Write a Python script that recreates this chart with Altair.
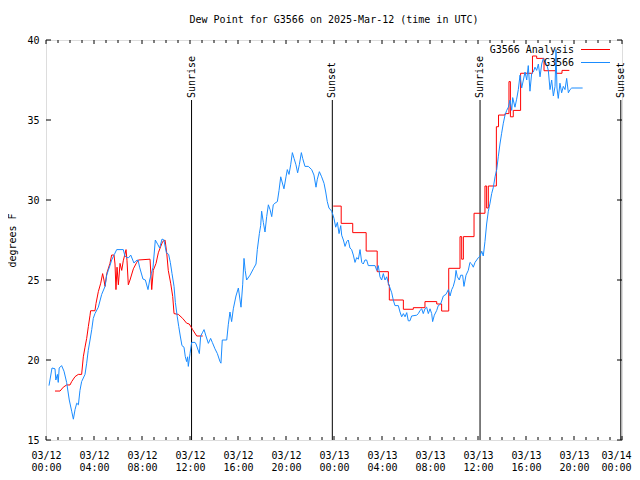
import altair as alt
import pandas as pd

# ---------------- data (hours since 2025-03-12 00:00 UTC, dew point in F) ----------------
obs_hours = [0.25, 0.5, 0.75, 0.82, 0.95, 1.02, 1.1, 1.3, 1.5, 1.72, 1.94, 2.14, 2.28, 2.42, 2.56, 2.7,
             2.83, 2.97, 3.25, 3.39, 3.52, 3.67, 3.81, 3.94, 4.08, 4.36, 4.64, 4.92, 5.06, 5.19, 5.33,
             5.47, 5.7, 5.89, 6.44, 6.58, 6.72, 6.9, 7.06, 7.33, 7.5, 7.67, 7.8, 8.08, 8.28, 8.5, 8.64,
             8.78, 8.92, 9.11, 9.33, 9.47, 9.67, 9.83, 10.03, 10.22, 10.36, 10.5, 10.67, 10.78, 10.94,
             11.06, 11.19, 11.33, 11.5, 11.61, 11.72, 11.8, 11.86, 12.0, 12.14, 12.42, 12.5, 12.78,
             12.89, 13.03, 13.17, 13.33, 13.53, 13.72, 13.86, 14.08, 14.28, 14.5, 14.58, 14.69, 15.06,
             15.19, 15.33, 15.47, 15.61, 15.83, 16.03, 16.17, 16.25, 16.39, 16.5, 16.6, 16.72, 17.0,
             17.28, 17.5, 17.61, 17.78, 17.89, 17.97, 18.11, 18.25, 18.39, 18.53, 18.67, 18.81, 18.94,
             19.08, 19.28, 19.42, 19.56, 19.72, 19.83, 20.0, 20.11, 20.25, 20.39, 20.53, 20.67, 20.83,
             20.97, 21.11, 21.28, 21.39, 21.58, 21.86, 22.14, 22.33, 22.5, 22.61, 22.78, 22.97, 23.17,
             23.31, 23.44, 23.58, 23.81, 24.0, 24.14, 24.28, 24.42, 24.56, 24.64, 24.78, 24.92, 25.06,
             25.19, 25.33, 25.47, 25.61, 25.75, 25.89, 26.03, 26.17, 26.31, 26.44, 26.58, 26.72, 26.86,
             27.42, 27.56, 27.69, 27.83, 27.97, 28.11, 28.25, 28.39, 28.53, 28.67, 28.81, 28.94, 29.08,
             29.36, 29.5, 29.64, 29.78, 29.92, 30.06, 30.19, 30.33, 30.47, 30.89, 31.03, 31.17, 31.31,
             31.44, 31.58, 31.72, 31.86, 32.0, 32.14, 32.22, 32.36, 32.56, 32.69, 32.89, 33.11, 33.33,
             33.53, 33.67, 33.81, 33.94, 34.08, 34.17, 34.28, 34.44, 34.56, 34.72, 34.83, 35.0, 35.19,
             35.33, 35.47, 35.61, 35.75, 35.89, 36.03, 36.17, 36.31, 36.44, 36.58, 36.72, 36.86, 37.0,
             37.14, 37.28, 37.42, 37.56, 37.69, 37.83, 37.97, 38.11, 38.25, 38.39, 38.53, 38.67, 38.81,
             38.89, 39.08, 39.22, 39.36, 39.5, 39.64, 39.78, 39.92, 40.06, 40.19, 40.33, 40.47, 40.61,
             40.75, 40.89, 41.03, 41.17, 41.31, 41.44, 41.58, 41.72, 41.86, 42.0, 42.14, 42.28, 42.42,
             42.5, 42.58, 42.69, 42.83, 42.97, 43.11, 43.25, 43.39, 43.53, 43.67, 43.81, 44.08, 44.72]
obs_dewpt = [18.4, 19.5, 19.45, 18.75, 19.1, 18.6, 19.5, 19.65, 19.3, 18.6, 17.5, 16.8, 16.3, 16.9, 17.3, 17.2,
             18.1, 18.65, 19.1, 19.8, 20.6, 21.25, 21.9, 22.6, 22.9, 23.3, 24.1, 24.6, 25.3, 25.6, 25.9,
             26.25, 26.6, 26.9, 26.9, 26.5, 26.4, 26.4, 26.56, 26.06, 26.2, 26.25, 25.8, 25.06, 25.0, 24.4, 25.0,
             25.4, 25.8, 27.5, 27.2, 27.0, 27.56, 27.5, 26.7, 26.6, 26.1, 25.4, 24.6, 23.6, 22.7,
             22.1, 21.5, 20.9, 20.8, 20.2, 19.9, 20.2, 19.6, 20.4, 21.1, 21.1, 21.0, 20.4,
             21.5, 21.7, 21.9, 21.5, 21.04, 21.35, 21.1, 20.7, 20.4, 19.9, 19.8, 21.25, 21.25,
             22.2, 23.0, 22.4, 23.2, 24.0, 24.5, 23.75, 23.3, 24.7, 26.35, 25.6, 25.0, 25.3,
             25.7, 26.0, 26.9, 27.9, 28.4, 29.3, 28.6, 28.0, 28.96, 29.7, 29.4, 28.96, 29.7,
             29.8, 29.9, 30.6, 31.45, 31.0, 30.7, 31.45, 31.9, 31.6, 32.2, 32.96, 32.6, 32.2,
             31.7, 32.2, 32.96, 32.6, 32.1, 32.1, 31.9, 31.56, 30.8, 31.3, 31.77, 31.45, 31.04,
             30.5, 29.9, 29.5, 29.3, 28.85, 28.3, 28.6, 27.9, 28.4, 27.8, 27.5, 27.1, 27.4,
             27.5, 27.0, 26.9, 26.56, 26.1, 26.4, 26.3, 26.9, 26.1, 26.0, 26.25, 26.25, 25.9,
             25.9, 25.6, 25.9, 25.2, 25.0, 25.4, 25.0, 25.2, 24.8, 24.5, 24.2, 23.75, 23.4,
             23.4, 23.0, 22.7, 22.9, 22.7, 22.96, 22.45, 22.45, 22.75, 22.8, 22.9, 23.1, 23.2,
             22.9, 23.2, 23.3, 22.9, 23.2, 22.9, 22.4, 22.8, 23.1, 23.4, 23.5, 24.0, 24.1,
             24.4, 24.0, 24.4, 24.6, 25.0, 25.6, 25.2, 25.0, 25.3, 25.3, 24.6, 25.3, 25.6,
             26.1, 26.0, 25.8, 26.1, 26.25, 26.4, 26.5, 26.8, 26.5, 27.4, 28.5, 29.3, 29.8,
             30.4, 30.8, 31.45, 31.9, 32.7, 33.5, 34.17, 34.8, 35.3, 35.6, 35.8, 36.25, 35.6,
             36.4, 35.8, 36.3, 36.9, 37.8, 37.0, 37.5, 38.0, 37.5, 38.4, 36.8, 37.9, 38.0,
             38.3, 38.1, 38.5, 37.7, 38.5, 38.85, 38.6, 38.5, 38.1, 36.9, 37.5, 36.5, 37.1,
             39.4, 37.0, 36.35, 37.3, 36.7, 37.1, 36.9, 37.6, 36.7, 36.9, 37.0, 37.0, 37.0]

# analysis, first part (03/12 morning)
ana1_hours = [0.75, 1.17, 1.44, 1.72, 2.0, 2.14, 2.42, 2.69, 2.97, 3.11, 3.25, 3.39, 3.53, 3.67, 3.72,
              4.08, 4.17, 4.36, 4.56, 4.72, 4.83, 4.92, 5.06, 5.33, 5.47, 5.67, 5.75, 5.83, 5.92, 6.03,
              6.17, 6.31, 6.44, 6.67, 6.75, 6.86, 7.0, 7.28, 7.56, 7.69, 8.67, 8.81, 8.94, 9.17, 9.36,
              9.56, 9.72, 9.92, 10.06, 10.19, 10.39, 10.56, 10.67, 11.03, 11.39, 11.72, 11.94, 12.22,
              12.56, 13.06]
ana1_dewpt = [18.06, 18.06, 18.3, 18.44, 18.44, 18.65, 18.96, 19.1, 19.1, 20.2, 20.8, 21.35, 22.1, 22.8, 23.08,
              23.08, 23.54, 24.27, 24.8, 25.4, 25.0, 24.6, 25.4, 26.04, 26.56, 26.56, 26.0, 24.4, 25.8, 24.7,
              26.04, 25.6, 26.2, 26.9, 26.2, 24.7, 25.0, 25.7, 26.1, 26.25, 26.3, 24.4, 25.6, 26.04, 26.7,
              27.1, 27.4, 27.5, 26.7, 25.6, 24.8, 23.96, 22.9, 22.85, 22.6, 22.3, 22.25, 21.9,
              21.5, 21.5]

# analysis, second part (03/12 evening - 03/13), stepped
ana2_hours = [23.94, 24.6, 25.56, 26.68, 27.6, 28.53, 28.61, 29.78, 30.61, 31.58, 32.56, 32.97, 33.56,
              34.5, 34.64, 34.78, 35.67, 36.58, 36.72, 36.86, 37.53, 37.71, 38.25, 38.58, 38.7, 38.94,
              39.55, 40.54, 40.89, 41.5, 42.5, 43.0, 43.61]
ana2_dewpt = [29.62, 28.54, 27.96, 26.81, 25.52, 24.69, 23.75, 23.17, 23.27, 23.65, 23.5, 23.06, 25.73,
              27.71, 26.3, 27.71, 29.17, 30.875, 29.5, 30.875, 34.58, 35.31, 35.4, 37.4, 35.2, 35.6,
              37.92, 39.0, 38.85, 38.08, 37.92, 38.1, 38.1]

sun_hours = [12.13, 23.86, 36.17, 47.9]
sun_labels = ["Sunrise", "Sunset", "Sunrise", "Sunset"]

series_names = ["G3566 Analysis", "G3566"]
series_colors = ["#ff0000", "#1a8cff"]

x_major = list(range(0, 49, 4))
x_minor = [h for h in range(0, 49) if h % 4]
y_ticks = [15, 20, 25, 30, 35, 40]

FONT = "DejaVu Sans Mono"
W, H = 576, 400

# ---------------- tables ----------------
df_obs = pd.DataFrame({"h": obs_hours, "v": obs_dewpt})
df_ana1 = pd.DataFrame({"h": ana1_hours, "v": ana1_dewpt})
df_ana2 = pd.DataFrame({"h": ana2_hours, "v": ana2_dewpt})
df_sun = pd.DataFrame({"h": sun_hours, "label": sun_labels})
df_xmaj = pd.DataFrame({"h": x_major})
df_xmin = pd.DataFrame({"h": x_minor})
df_y = pd.DataFrame({"v": y_ticks})

xs = alt.Scale(domain=[0, 48], nice=False, zero=False)
ys = alt.Scale(domain=[15, 40], nice=False, zero=False)

xaxis = alt.Axis(
    values=x_major, ticks=False, domain=False, grid=False, title=None,
    labelExpr="['03/' + (12 + floor(datum.value / 24)), ((datum.value % 24) < 10 ? '0' : '') + (datum.value % 24) + ':00']",
    labelFont=FONT, labelFontSize=10, labelColor="black", labelPadding=10,
    labelLineHeight=12.5, labelOverlap=False, labelFlush=False,
    labelOffset={"condition": {"test": "datum.value >= 48", "value": -6}, "value": 0},
)
yaxis = alt.Axis(
    values=y_ticks, ticks=False, domain=False, grid=False, title="degrees F",
    labelFont=FONT, labelFontSize=10, labelColor="black", labelPadding=7,
    titleFont=FONT, titleFontSize=10, titleFontWeight="normal", titleColor="black",
    titleAngle=270, titleX=-34, titleY=H / 2, titleAlign="center", titleBaseline="middle",
)

def X(field="h"):
    return alt.X(f"{field}:Q", scale=xs, axis=xaxis)

def Y(field="v"):
    return alt.Y(f"{field}:Q", scale=ys, axis=yaxis)

ana1 = alt.Chart(df_ana1).mark_line(color=series_colors[0], strokeWidth=1).encode(x=X(), y=Y())
ana2 = alt.Chart(df_ana2).mark_line(color=series_colors[0], strokeWidth=1, interpolate="step-after").encode(x=X(), y=Y())
obs = alt.Chart(df_obs).mark_line(color=series_colors[1], strokeWidth=1).encode(x=X(), y=Y())

sun_rule = alt.Chart(df_sun).mark_rule(color="black", strokeWidth=1).encode(
    x=X(), y=alt.value(60), y2=alt.value(H))
sun_text = alt.Chart(df_sun).mark_text(angle=270, align="left", baseline="middle", font=FONT,
                                       fontSize=10, color="black").encode(
    x=X(), y=alt.value(58), text="label:N")

tick_layers = [
    alt.Chart(df_xmaj).mark_rule(color="black").encode(x=X(), y=alt.value(0), y2=alt.value(4)),
    alt.Chart(df_xmaj).mark_rule(color="black").encode(x=X(), y=alt.value(H - 4), y2=alt.value(H)),
    alt.Chart(df_xmin).mark_rule(color="black").encode(x=X(), y=alt.value(0), y2=alt.value(3)),
    alt.Chart(df_xmin).mark_rule(color="black").encode(x=X(), y=alt.value(H - 3), y2=alt.value(H)),
    alt.Chart(df_y).mark_rule(color="black").encode(y=Y(), x=alt.value(0), x2=alt.value(5)),
    alt.Chart(df_y).mark_rule(color="black").encode(y=Y(), x=alt.value(W - 5), x2=alt.value(W)),
]

legend_layers = []
for i, (name, col) in enumerate(zip(series_names, series_colors)):
    ly = 9.5 + 13 * i
    dfl = pd.DataFrame({"label": [name]})
    legend_layers.append(
        alt.Chart(dfl).mark_text(align="right", baseline="middle", font=FONT, fontSize=10, color="black")
        .encode(x=alt.value(528), y=alt.value(ly), text="label:N"))
    legend_layers.append(
        alt.Chart(dfl).mark_rule(color=col, strokeWidth=1)
        .encode(x=alt.value(535), x2=alt.value(564), y=alt.value(ly)))

chart = alt.layer(
    *tick_layers, sun_rule, sun_text, ana1, ana2, obs, *legend_layers
).properties(
    width=W, height=H,
    title=alt.TitleParams("Dew Point for G3566 on 2025-Mar-12 (time in UTC)", font=FONT, fontSize=10,
                          fontWeight="normal", color="black", anchor="middle", offset=10),
    autosize=alt.AutoSizeParams(type="none"),
    padding={"left": 38, "top": 32, "right": 10, "bottom": 32},
).configure_view(stroke="black", strokeWidth=1).configure(background="white")

chart.save("out.html", embed_options={"renderer": "svg", "actions": False})
